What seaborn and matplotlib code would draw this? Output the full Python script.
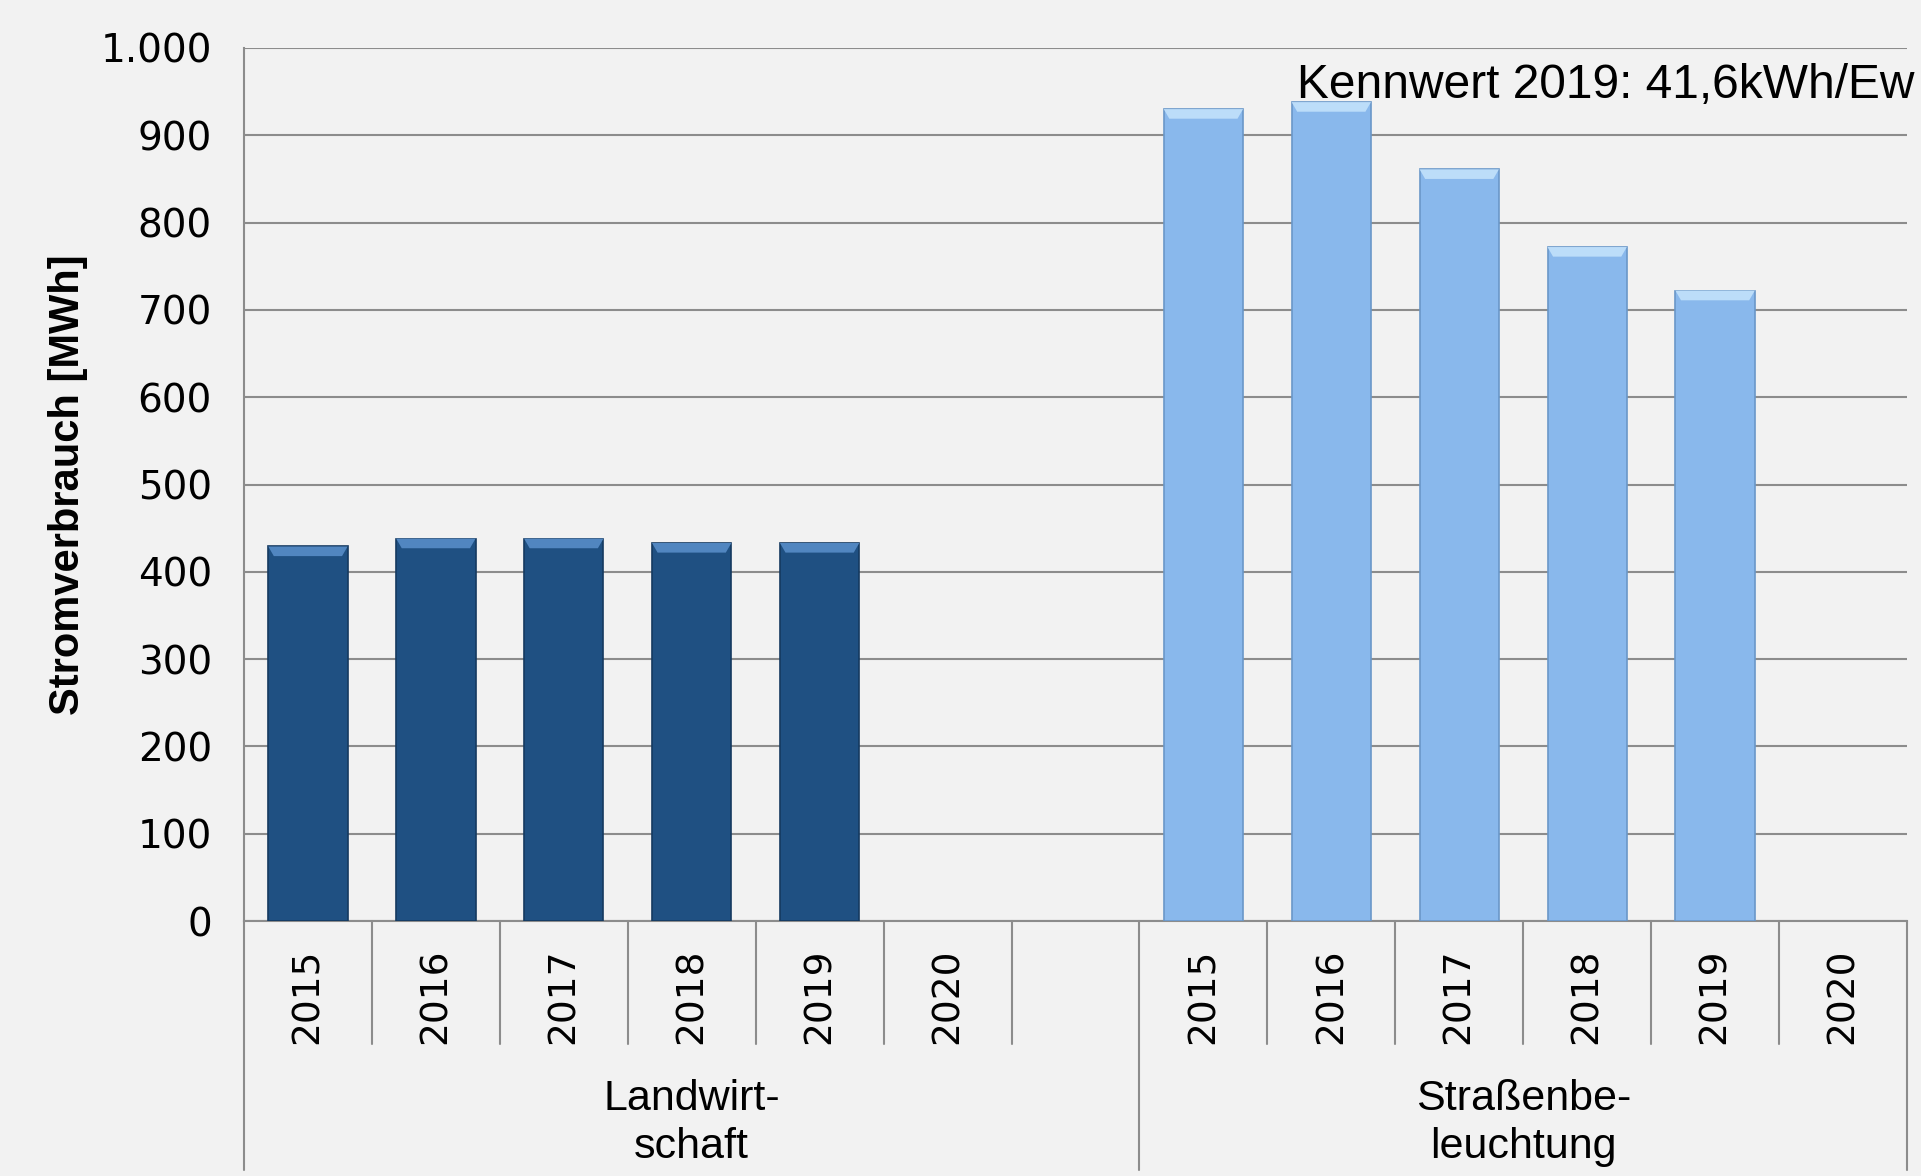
import numpy as np
import pandas as pd
import matplotlib
matplotlib.use("Agg")
import matplotlib.pyplot as plt
from matplotlib.patches import Polygon
from matplotlib.ticker import FuncFormatter
from matplotlib.transforms import blended_transform_factory
import seaborn as sns

# data
years = ["2015", "2016", "2017", "2018", "2019", "2020"]
groups = ["Landwirt-\nschaft", "Straßenbe-\nleuchtung"]
landwirtschaft = [429, 438, 438, 433, 433, np.nan]
strassenbeleuchtung = [930, 938, 861, 772, 722, np.nan]
annotation = "Kennwert 2019: 41,6kWh/Ew"
ylabel = "Stromverbrauch [MWh]"

bg = "#F2F2F2"
grid_col = "#8C8C8C"
colors = {"Landwirtschaft": "#1F5082", "Straßenbeleuchtung": "#89B8EC"}
bevel_cols = {"Landwirtschaft": "#5186C0", "Straßenbeleuchtung": "#BCDDF9"}
edge_cols = {"Landwirtschaft": "#153A60", "Straßenbeleuchtung": "#6A97C8"}

# slot order: 6 years, one empty gap slot, 6 years
slots = ["L" + y for y in years] + ["gap"] + ["S" + y for y in years]
slot_labels = years + [""] + years

df = pd.DataFrame({
    "slot": ["L" + y for y in years] + ["S" + y for y in years],
    "value": landwirtschaft + strassenbeleuchtung,
    "group": ["Landwirtschaft"] * 6 + ["Straßenbeleuchtung"] * 6,
})

sns.set_style("white")
plt.rcParams["font.family"] = ["Liberation Sans", "DejaVu Sans"]
plt.rcParams["text.color"] = "black"

fig = plt.figure(figsize=(19.21, 11.76), dpi=100, facecolor=bg)
ax = fig.add_axes([0.127, 0.2168, 0.8657, 0.7424], facecolor=bg)

sns.barplot(data=df, x="slot", y="value", hue="group", order=slots,
            hue_order=list(colors.keys()), palette=colors, dodge=False,
            width=0.62, ax=ax, legend=False, saturation=1, zorder=3)

# bevel highlight on bar tops, edge colour per group
for p in ax.patches:
    h = p.get_height()
    if not np.isfinite(h) or h <= 0:
        continue
    fc = matplotlib.colors.to_hex(p.get_facecolor())
    grp = "Landwirtschaft" if fc.upper() == colors["Landwirtschaft"].upper() else "Straßenbeleuchtung"
    p.set_edgecolor(edge_cols[grp])
    p.set_linewidth(1.2)
    x0, w = p.get_x(), p.get_width()
    bev, ins = 11, w * 0.07
    ax.add_patch(Polygon([(x0, h), (x0 + w, h), (x0 + w - ins, h - bev), (x0 + ins, h - bev)],
                         closed=True, facecolor=bevel_cols[grp], edgecolor="none", zorder=4))

ax.set_xlim(-0.5, len(slots) - 0.5)
ax.set_ylim(0, 1000)
ax.set_yticks(np.arange(0, 1001, 100))
ax.yaxis.set_major_formatter(FuncFormatter(lambda v, _: f"{int(v):,}".replace(",", ".")))
ax.grid(axis="y", color=grid_col, linewidth=1.5, zorder=0)
ax.set_axisbelow(True)

for side in ["top", "right"]:
    ax.spines[side].set_visible(False)
for side in ["left", "bottom"]:
    ax.spines[side].set_color(grid_col)
    ax.spines[side].set_linewidth(1.5)

ax.tick_params(axis="y", length=9, width=1.5, color=grid_col, pad=14,
               labelsize=28, labelcolor="black")
for lab in ax.get_yticklabels():
    lab.set_fontfamily("DejaVu Sans")

ax.set_xticks(range(len(slots)))
ax.set_xticklabels(slot_labels, rotation=90, fontsize=27, family="DejaVu Sans",
                   va="top", color="black")
ax.tick_params(axis="x", length=0, pad=20)
ax.set_xlabel("")

ax.set_ylabel(ylabel, fontsize=30, fontweight="bold", color="black")
ax.yaxis.set_label_coords(-0.094, 0.5)

# category separators below the axis
trans = ax.get_xaxis_transform()
short_bot, long_bot = -0.141, -0.285
for i in range(len(slots) + 1):
    xb = i - 0.5
    is_long = xb in (-0.5, 6.5, len(slots) - 0.5)
    ax.plot([xb, xb], [0, long_bot if is_long else short_bot], transform=trans,
            color=grid_col, linewidth=1.5, clip_on=False, zorder=1)

# group labels
ax.text(3.0, -0.231, groups[0], transform=trans, ha="center", va="center",
        fontsize=31, linespacing=1.25, color="black")
ax.text(9.5, -0.231, groups[1], transform=trans, ha="center", va="center",
        fontsize=31, linespacing=1.25, color="black")

ax.text(0.633, 957, annotation,
        transform=blended_transform_factory(ax.transAxes, ax.transData),
        ha="left", va="center", fontsize=34.5, clip_on=False, zorder=5, color="black")

fig.savefig("out.png", dpi=100, facecolor=bg)
